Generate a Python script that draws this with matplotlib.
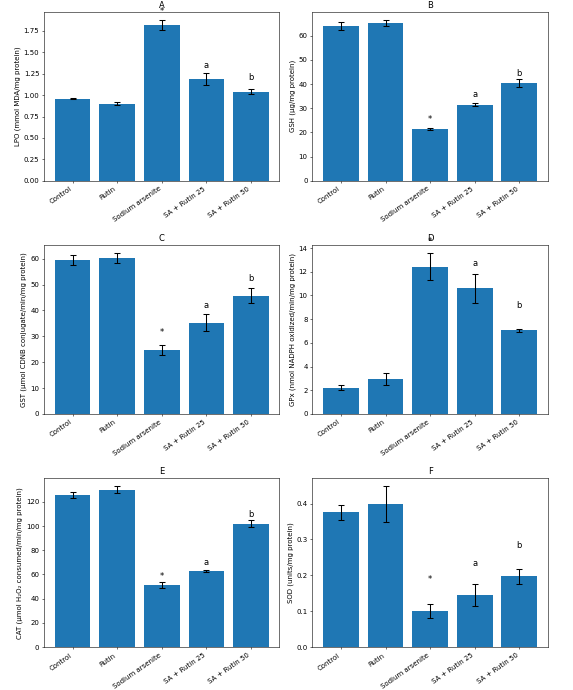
import matplotlib
matplotlib.use('Agg')
import matplotlib.pyplot as plt

groups = ['Control', 'Rutin', 'Sodium arsenite', 'SA + Rutin 25', 'SA + Rutin 50']
sig_marks = ['', '', '*', 'a', 'b']

lpo = [0.96, 0.90, 1.82, 1.19, 1.04]
lpo_err = [0.01, 0.02, 0.06, 0.07, 0.03]

gsh = [64.0, 65.3, 21.3, 31.5, 40.3]
gsh_err = [1.8, 1.3, 0.5, 0.7, 1.7]

gst = [59.6, 60.2, 24.7, 35.2, 45.6]
gst_err = [2.0, 2.0, 2.0, 3.3, 2.9]

gpx = [2.2, 2.95, 12.43, 10.6, 7.06]
gpx_err = [0.21, 0.5, 1.15, 1.2, 0.12]

cat = [125.8, 129.9, 51.2, 62.8, 101.8]
cat_err = [2.5, 2.9, 2.2, 1.0, 2.75]

sod = [0.375, 0.398, 0.101, 0.146, 0.197]
sod_err = [0.021, 0.05, 0.02, 0.031, 0.021]

panels = [
    ('A', 'LPO (mmol MDA/mg protein)', lpo, lpo_err, 0.16),
    ('B', 'GSH (μg/mg protein)', gsh, gsh_err, 4.0),
    ('C', 'GST (μmol CDNB conjugate/min/mg protein)', gst, gst_err, 6.6),
    ('D', 'GPx (nmol NADPH oxidized/min/mg protein)', gpx, gpx_err, 2.1),
    ('E', 'CAT (μmol H₂O₂ consumed/min/mg protein)', cat, cat_err, 7.5),
    ('F', 'SOD (units/mg protein)', sod, sod_err, 0.087),
]

fig, axes = plt.subplots(3, 2, figsize=(11.46, 13.8), dpi=50)

for ax, (title, ylabel, vals, errs, pad) in zip(axes.flat, panels):
    x = range(len(groups))
    ax.bar(x, vals, yerr=errs, capsize=5, color='#1f77b4',
           error_kw=dict(ecolor='black', elinewidth=1.5, capthick=1.5))
    for i, (v, m) in enumerate(zip(vals, sig_marks)):
        if m:
            ax.text(i, v + pad, m, ha='center', va='center', fontsize=12)
    ax.set_title(title)
    ax.set_ylabel(ylabel)
    ax.set_xticks(list(x))
    ax.set_xticklabels(groups, rotation=35, ha='right')

plt.subplots_adjust(left=0.077, right=0.956, top=0.983, bottom=0.062,
                    wspace=0.14, hspace=0.38)
fig.savefig('out.png', dpi=50)
